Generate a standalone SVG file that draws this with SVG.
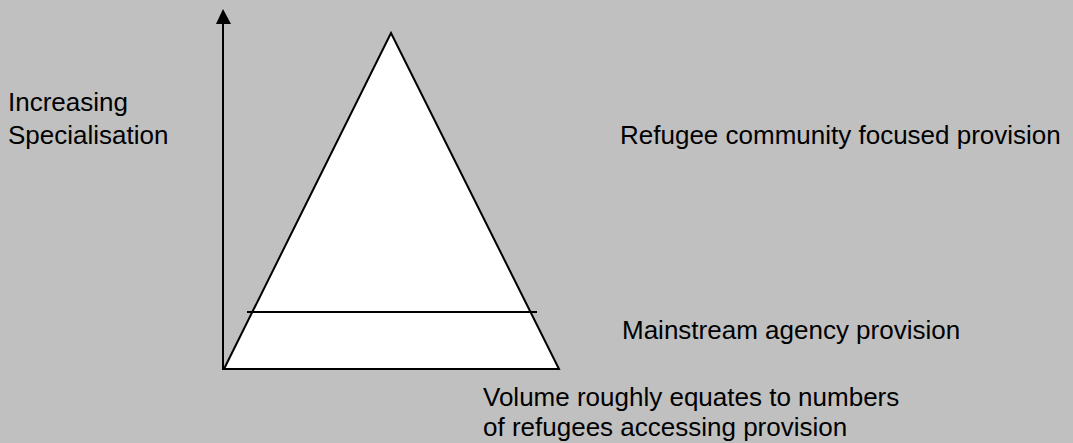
<svg xmlns="http://www.w3.org/2000/svg" width="1073" height="443" viewBox="0 0 1073 443">
<style>
.t{font-family:"Liberation Sans",Arial,sans-serif;font-size:26px;fill:#000}
.ln{stroke:#000;stroke-width:2;fill:none}
</style>
<rect x="0" y="0" width="1073" height="443" fill="#c0c0c0"/>
<g id="pyramid">
<polygon points="224,369 391,33 559,369" fill="#fff" stroke="#000" stroke-width="2" stroke-linejoin="miter"/>
</g>
<g id="connectors">
<line class="ln" x1="223" y1="370" x2="223" y2="22"/>
<polygon points="223,9 216,24 231,24" fill="#000"/>
<line class="ln" x1="247" y1="312" x2="537" y2="312"/>
</g>
<g id="label-axis">
<text class="t" x="8" y="111">Increasing</text>
<text class="t" x="8" y="144">Specialisation</text>
</g>
<g id="label-top">
<text class="t" x="620" y="144">Refugee community focused provision</text>
</g>
<g id="label-bottom">
<text class="t" x="622" y="339">Mainstream agency provision</text>
</g>
<g id="label-volume">
<text class="t" x="483" y="406">Volume roughly equates to numbers</text>
<text class="t" x="483" y="436">of refugees accessing provision</text>
</g>
</svg>
